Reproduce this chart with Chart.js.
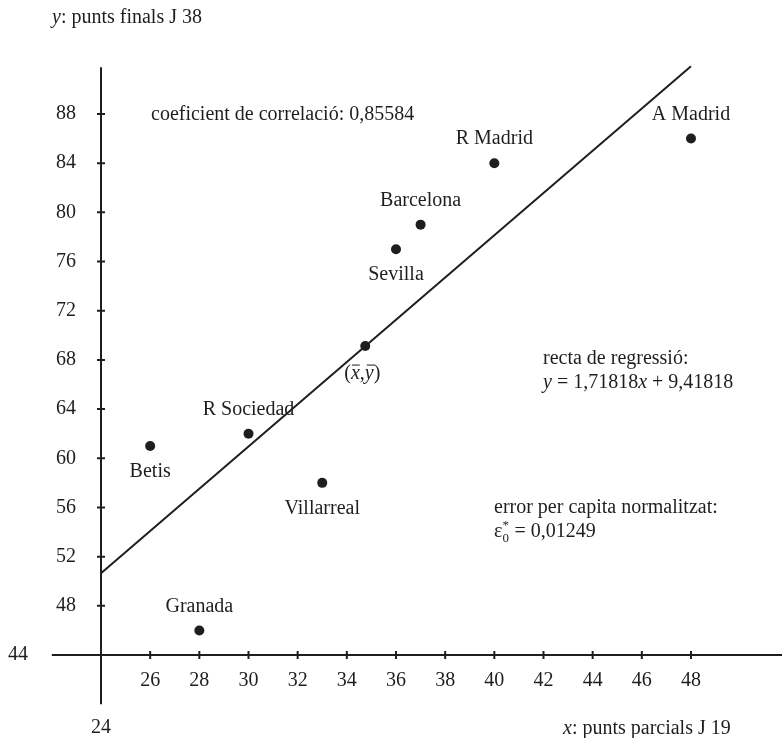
<!DOCTYPE html>
<html>
<head>
<meta charset="utf-8">
<script src="https://cdn.jsdelivr.net/npm/chart.js@4.4.0/dist/chart.umd.min.js"></script>
<style>
body { margin: 0; background: #fff; }
#wrap { width: 782px; height: 738px; position: relative; }
</style>
</head>
<body>
<div id="wrap"><canvas id="grafic"></canvas></div>
<script>
// dades: punts a la jornada 19 i punts finals (jornada 38)
var equips = ["Betis", "R Sociedad", "Granada", "Villarreal", "Sevilla", "Barcelona", "R Madrid", "A Madrid"];
var puntsJ19 = [26, 30, 28, 33, 36, 37, 40, 48];
var puntsJ38 = [61, 62, 46, 58, 77, 79, 84, 86];
var ticksX = [26, 28, 30, 32, 34, 36, 38, 40, 42, 44, 46, 48];
var ticksY = [48, 52, 56, 60, 64, 68, 72, 76, 80, 84, 88];
var pendent = 1.71818;
var ordenada = 9.41818;
var rectaX = [24, 48];
var correlacio = "0,85584";
var errorNorm = "0,01249";

var mitjaX = puntsJ19.reduce(function (a, b) { return a + b; }, 0) / puntsJ19.length;
var mitjaY = puntsJ38.reduce(function (a, b) { return a + b; }, 0) / puntsJ38.length;

var tinta = '#1e1e1e';
var lletra = '"Liberation Serif", "Times New Roman", serif';
// etiquetes que van sota el punt
var sota = ["Betis", "Sevilla", "Villarreal"];

function textMixt(ctx, x, y, trossos) {
    trossos.forEach(function (t) {
        ctx.font = (t[1] ? 'italic ' : '') + '20px ' + lletra;
        ctx.fillText(t[0], x, y);
        x += ctx.measureText(t[0]).width;
    });
    return x;
}

var eixos = {
    id: 'eixos',
    beforeDatasetsDraw: function (chart) {
        var ctx = chart.ctx, sx = chart.scales.x, sy = chart.scales.y;
        var x0 = sx.getPixelForValue(24), y0 = sy.getPixelForValue(44);
        ctx.save();
        ctx.strokeStyle = tinta;
        ctx.lineWidth = 2;
        ctx.beginPath();
        ctx.moveTo(sx.getPixelForValue(22), y0);
        ctx.lineTo(sx.right, y0);
        ctx.moveTo(x0, sy.getPixelForValue(91.8));
        ctx.lineTo(x0, sy.getPixelForValue(40));
        ticksX.forEach(function (v) {
            var px = sx.getPixelForValue(v);
            ctx.moveTo(px, y0 - 4);
            ctx.lineTo(px, y0 + 4);
        });
        ticksY.forEach(function (v) {
            var py = sy.getPixelForValue(v);
            ctx.moveTo(x0 - 4, py);
            ctx.lineTo(x0 + 4, py);
        });
        ctx.stroke();

        ctx.fillStyle = tinta;
        ctx.font = '20px ' + lletra;
        ctx.textBaseline = 'middle';
        ctx.textAlign = 'center';
        ticksX.forEach(function (v) {
            ctx.fillText(String(v), sx.getPixelForValue(v), y0 + 26);
        });
        ctx.fillText('24', x0, y0 + 73);
        ctx.textAlign = 'right';
        ticksY.forEach(function (v) {
            ctx.fillText(String(v), x0 - 25, sy.getPixelForValue(v));
        });
        ctx.fillText('44', 28, y0);
        ctx.restore();
    },
    afterDatasetsDraw: function (chart) {
        var ctx = chart.ctx, sx = chart.scales.x, sy = chart.scales.y;
        ctx.save();
        ctx.fillStyle = tinta;
        ctx.textBaseline = 'middle';
        ctx.textAlign = 'center';
        ctx.font = '20px ' + lletra;
        equips.forEach(function (e, i) {
            var px = sx.getPixelForValue(puntsJ19[i]);
            var py = sy.getPixelForValue(puntsJ38[i]);
            var dy = sota.indexOf(e) >= 0 ? 26 : -24;
            ctx.fillText(e, px, py + dy);
        });

        // (x̄, ȳ)
        var mx = sx.getPixelForValue(mitjaX), my = sy.getPixelForValue(mitjaY) + 28;
        ctx.textAlign = 'left';
        var xi = mx - 21;
        var xa = textMixt(ctx, xi, my, [["(", false]]);
        var xb = textMixt(ctx, xa, my, [["x", true]]);
        var xc = textMixt(ctx, xb, my, [[",", false]]);
        var xd = textMixt(ctx, xc, my, [["y", true]]);
        textMixt(ctx, xd, my, [[")", false]]);
        ctx.strokeStyle = tinta;
        ctx.lineWidth = 1;
        ctx.beginPath();
        ctx.moveTo(xa + 1, my - 9); ctx.lineTo(xb, my - 9);
        ctx.moveTo(xc + 2, my - 9); ctx.lineTo(xd + 1, my - 9);
        ctx.stroke();

        // textos
        textMixt(ctx, 52, 18, [["y", true], [": punts finals J 38", false]]);
        textMixt(ctx, 563, 729, [["x", true], [": punts parcials J 19", false]]);
        textMixt(ctx, 151, 115, [["coeficient de correlació: " + correlacio, false]]);
        textMixt(ctx, 543, 359, [["recta de regressió:", false]]);
        textMixt(ctx, 543, 383, [["y", true], [" = " + String(pendent).replace('.', ','), false], ["x", true],
            [" + " + String(ordenada).replace('.', ','), false]]);
        textMixt(ctx, 494, 508, [["error per capita normalitzat:", false]]);
        var xe = textMixt(ctx, 494, 532, [["ε", false]]);
        ctx.font = '13px ' + lletra;
        ctx.fillText('0', xe, 539);
        ctx.fillText('*', xe, 526);
        ctx.font = '20px ' + lletra;
        ctx.fillText(' = ' + errorNorm, xe + 7, 532);
        ctx.restore();
    }
};

var punts = equips.map(function (e, i) { return { x: puntsJ19[i], y: puntsJ38[i] }; });
var recta = rectaX.map(function (x) { return { x: x, y: pendent * x + ordenada }; });

var ctx = document.getElementById('grafic').getContext('2d');
var chart = new Chart(ctx, {
    type: 'scatter',
    data: {
        datasets: [{
            label: 'recta',
            data: recta,
            showLine: true,
            borderColor: tinta,
            borderWidth: 2,
            pointRadius: 0
        }, {
            label: 'equips',
            data: punts,
            backgroundColor: tinta,
            borderWidth: 0,
            pointRadius: 5
        }, {
            label: 'mitjana',
            data: [{ x: mitjaX, y: mitjaY }],
            backgroundColor: tinta,
            borderWidth: 0,
            pointRadius: 5
        }]
    },
    options: {
        responsive: true,
        maintainAspectRatio: false,
        animation: false,
        layout: { padding: 0, autoPadding: false },
        plugins: { legend: { display: false }, tooltip: { enabled: false } },
        scales: {
            x: { type: 'linear', display: false, min: 19.8915, max: 51.702 },
            y: { type: 'linear', display: false, min: 37.25, max: 97.27 }
        }
    },
    plugins: [eixos]
});
</script>
</body>
</html>
